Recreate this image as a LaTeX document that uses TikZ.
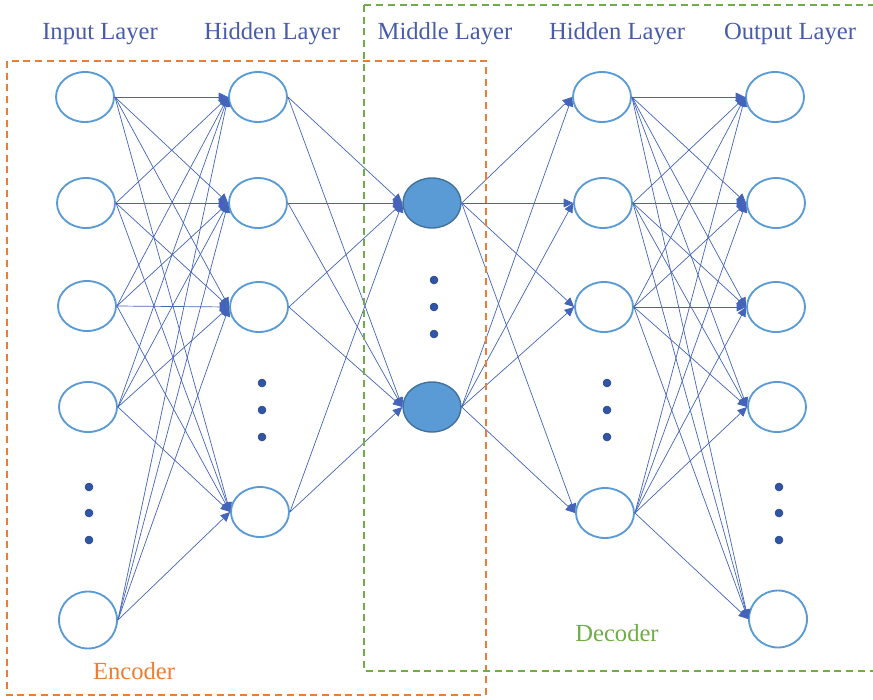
\documentclass[tikz,border=0pt]{standalone}
\usepackage{fontspec}
\setmainfont{Liberation Serif}
\usetikzlibrary{shapes.geometric,arrows.meta}
\definecolor{nodeblue}{RGB}{91,155,213}
\definecolor{nodedark}{RGB}{65,113,156}
\definecolor{edgeblue}{RGB}{68,100,185}
\definecolor{dotblue}{RGB}{47,85,164}
\definecolor{textblue}{RGB}{72,92,170}
\definecolor{encorange}{RGB}{237,125,49}
\definecolor{decgreen}{RGB}{112,173,71}

\begin{document}
\begin{tikzpicture}[x=0.03cm,y=-0.03cm,
  neuron/.style={draw=nodeblue,ellipse,line width=1.6pt,minimum width=1.74cm,minimum height=1.5cm,inner sep=0pt},
  last/.style={neuron,minimum height=1.71cm},
  mid/.style={neuron,draw=nodedark,fill=nodeblue,line width=1.2pt},
  dot/.style={circle,draw=dotblue!80!black,fill=dotblue,minimum size=0.24cm,inner sep=0pt,line width=0.4pt},
  layer/.style={text=textblue,font=\fontsize{21}{25}\selectfont},
  edge/.style={draw=edgeblue,line width=0.6pt,-{Triangle[length=8pt,width=7.5pt]}},
  box/.style={dashed,line width=1.3pt,dash pattern=on 6pt off 4pt}]
  \clip (0,0) rectangle (873,699);
  \node[layer] (lin) at (100,34) {Input Layer};
  \node[layer] (lh1) at (272,34) {Hidden Layer};
  \node[layer] (lmid) at (445,34) {Middle Layer};
  \node[layer] (lh2) at (617,34) {Hidden Layer};
  \node[layer] (lout) at (790,34) {Output Layer};
  \node[neuron] (i1) at (85,97) {};
  \node[neuron] (i2) at (86,203) {};
  \node[neuron] (i3) at (87,306) {};
  \node[neuron] (i4) at (88,407) {};
  \node[last] (i5) at (88,620) {};
  \node[dot] (id1) at (89,487) {};
  \node[dot] (id2) at (89,513) {};
  \node[dot] (id3) at (89,540) {};
  \node[neuron] (h1) at (258,97) {};
  \node[neuron] (h2) at (258,203) {};
  \node[neuron] (h3) at (259,307) {};
  \node[neuron] (h4) at (260,512) {};
  \node[dot] (hd1) at (262,383) {};
  \node[dot] (hd2) at (262,410) {};
  \node[dot] (hd3) at (262,437) {};
  \node[mid] (m1) at (432,203) {};
  \node[mid] (m2) at (432,407) {};
  \node[dot] (md1) at (434,280) {};
  \node[dot] (md2) at (434,307) {};
  \node[dot] (md3) at (434,334) {};
  \node[neuron] (g1) at (602,97) {};
  \node[neuron] (g2) at (603,203) {};
  \node[neuron] (g3) at (604,307) {};
  \node[neuron] (g4) at (605,513) {};
  \node[dot] (gd1) at (607,383) {};
  \node[dot] (gd2) at (607,410) {};
  \node[dot] (gd3) at (607,437) {};
  \node[neuron] (o1) at (775,97) {};
  \node[neuron] (o2) at (776,203) {};
  \node[neuron] (o3) at (776,307) {};
  \node[neuron] (o4) at (777,407) {};
  \node[last] (o5) at (778,619) {};
  \node[dot] (od1) at (779,487) {};
  \node[dot] (od2) at (779,513) {};
  \node[dot] (od3) at (779,540) {};
  \foreach \a in {i1,i2,i3,i4,i5}
    \foreach \b in {h1,h2,h3,h4}
      \draw[edge] (\a.east) -- (\b.west);
  \foreach \a in {h1,h2,h3,h4}
    \foreach \b in {m1,m2}
      \draw[edge] (\a.east) -- (\b.west);
  \foreach \a in {m1,m2}
    \foreach \b in {g1,g2,g3,g4}
      \draw[edge] (\a.east) -- (\b.west);
  \foreach \a in {g1,g2,g3,g4}
    \foreach \b in {o1,o2,o3,o4,o5}
      \draw[edge] (\a.east) -- (\b.west);
  \draw[box,draw=encorange] (7,61) rectangle (486,695);
  \draw[box,draw=decgreen] (364,5) rectangle (885,671);
  \node[text=encorange,font=\fontsize{21}{25}\selectfont] (enc) at (134,671) {Encoder};
  \node[text=decgreen,font=\fontsize{21}{25}\selectfont] (dec) at (617,633) {Decoder};
\end{tikzpicture}
\end{document}
